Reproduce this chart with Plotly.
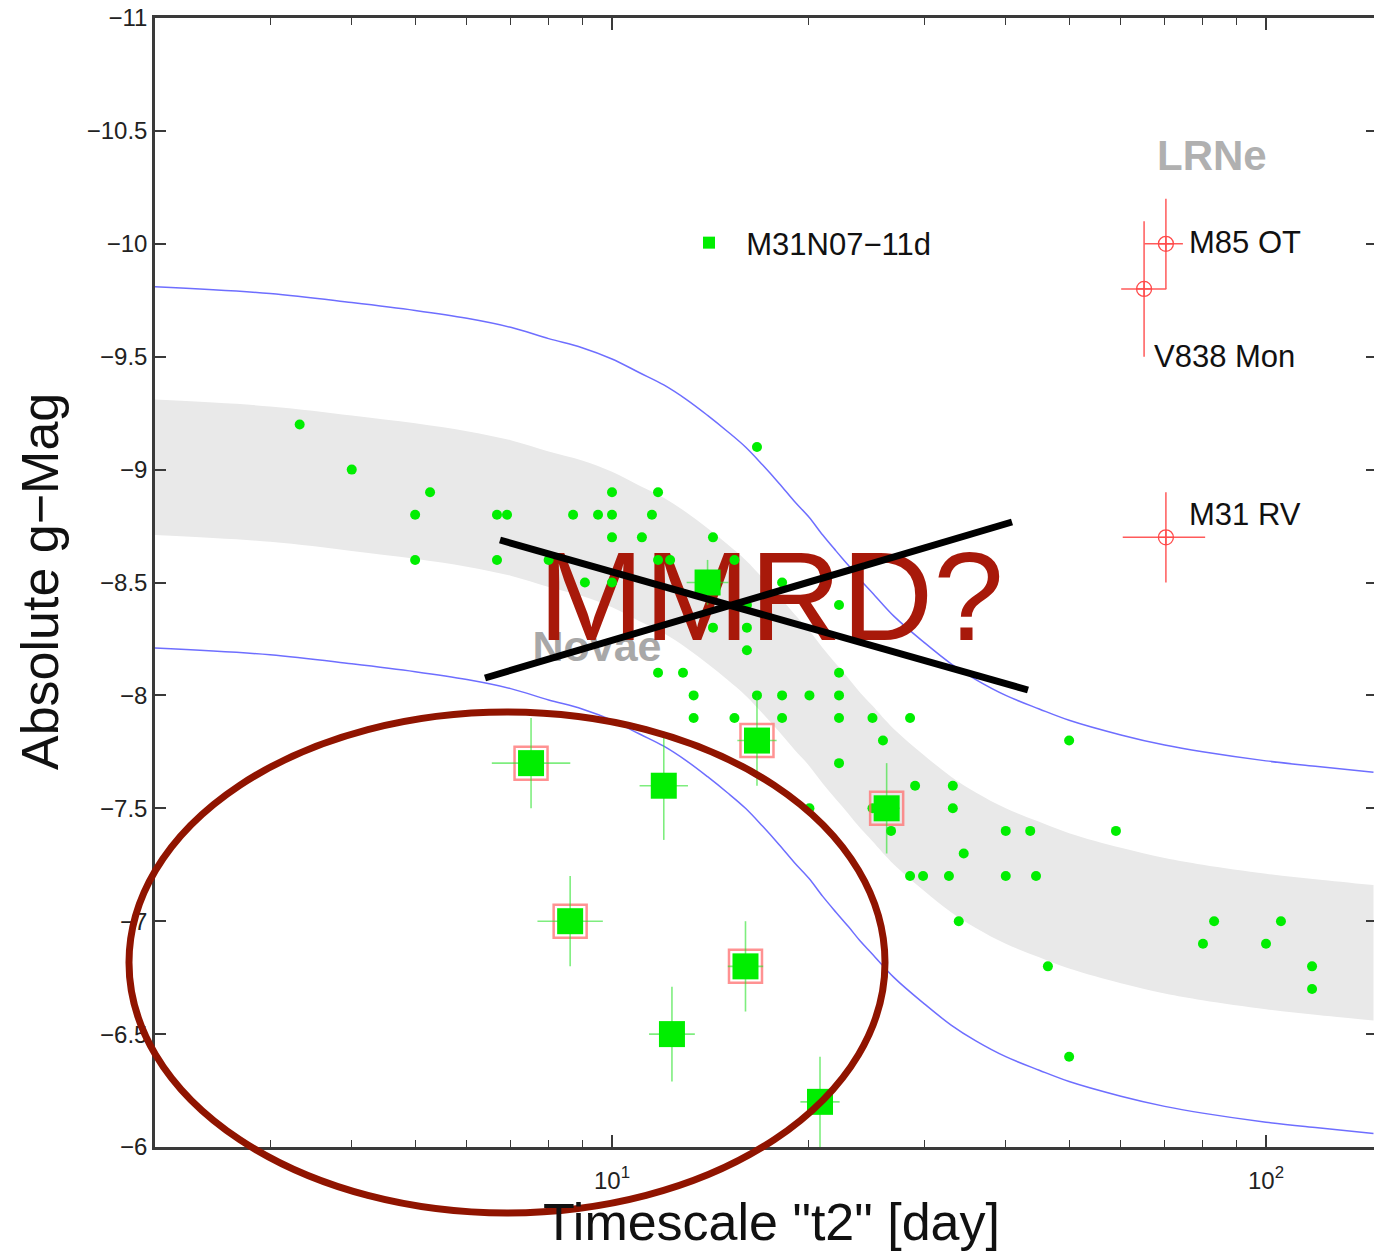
import numpy as np
import plotly.graph_objects as go

# ---------------- data ----------------
# Novae (small green dots): t2 [day], absolute g magnitude
nova_t2 = [3.33, 16.66, 4.0,
           5.27, 10.0, 11.76,
           5.0, 6.67, 6.91, 8.72, 9.52, 10.0, 11.51,
           10.0, 11.11, 14.27,
           5.0, 6.67, 8.0, 11.76, 12.27, 15.39,
           9.09, 10.0, 18.2,
           16.08, 22.24,
           14.27, 16.08,
           16.08,
           11.76, 12.84, 22.24,
           13.33, 16.66, 18.2, 20.04, 22.24,
           13.33, 15.39, 18.2, 22.24, 25.02, 28.56,
           25.96, 50.0,
           22.24,
           29.07, 33.2,
           20.04, 25.02, 33.2,
           26.71, 40.0, 43.6, 58.96,
           34.5,
           28.56, 29.9, 32.75, 40.0, 44.5,
           33.9, 83.3, 105.4,
           80.1, 100.0,
           46.4, 117.6,
           117.6,
           50.0]
nova_mag = [-9.2, -9.1, -9.0,
            -8.9, -8.9, -8.9,
            -8.8, -8.8, -8.8, -8.8, -8.8, -8.8, -8.8,
            -8.7, -8.7, -8.7,
            -8.6, -8.6, -8.6, -8.6, -8.6, -8.6,
            -8.5, -8.5, -8.5,
            -8.4, -8.4,
            -8.3, -8.3,
            -8.2,
            -8.1, -8.1, -8.1,
            -8.0, -8.0, -8.0, -8.0, -8.0,
            -7.9, -7.9, -7.9, -7.9, -7.9, -7.9,
            -7.8, -7.8,
            -7.7,
            -7.6, -7.6,
            -7.5, -7.5, -7.5,
            -7.4, -7.4, -7.4, -7.4,
            -7.3,
            -7.2, -7.2, -7.2, -7.2, -7.2,
            -7.0, -7.0, -7.0,
            -6.9, -6.9,
            -6.8, -6.8,
            -6.7,
            -6.4]

# M31N07-11d (big green squares)
m31_name = "M31N07\u221211d"
m31_t2 = [7.52, 14.0, 16.66, 12.0, 26.3, 8.63, 16.0, 12.35, 20.8]
m31_mag = [-7.7, -8.5, -7.8, -7.6, -7.5, -7.0, -6.8, -6.5, -6.2]
m31_magerr = [0.2, 0.1, 0.2, 0.24, 0.2, 0.2, 0.2, 0.21, 0.2]
m31_t2err_dex = [0.06, 0.032, 0.03, 0.037, 0.02, 0.05, 0.027, 0.035, 0.03]
m31_flagged = [True, False, True, False, True, True, True, False, False]

# Luminous red novae
lrn_names = ["M85 OT", "V838 Mon", "M31 RV"]
lrn_t2 = [70.3, 65.1, 70.3]
lrn_mag = [-10.0, -9.8, -8.7]
lrn_magerr = [0.2, 0.3, 0.2]
lrn_t2err_lo_dex = [0.033, 0.035, 0.066]
lrn_t2err_hi_dex = [0.026, 0.034, 0.060]

# MMRD relation (centre of grey band)
curve_t2 = [2, 3, 4, 5, 6, 7, 8, 9, 10, 11, 12, 13, 14, 15, 16, 17, 18, 19,
            20, 21, 22, 23, 24, 25, 27, 30, 33, 36, 40, 45, 50, 60, 70, 80,
            100, 120, 146]
curve_mag = [-9.01, -8.98, -8.94, -8.905, -8.87, -8.83, -8.78, -8.74, -8.69,
             -8.63, -8.575, -8.51, -8.44, -8.37, -8.30, -8.22, -8.14, -8.06,
             -7.99, -7.91, -7.84, -7.775, -7.71, -7.655, -7.55, -7.435, -7.34,
             -7.27, -7.20, -7.14, -7.09, -7.025, -6.98, -6.95, -6.91, -6.885,
             -6.86]
band_half = 0.3
envelope_half = 0.8

y_tickvals = [-11, -10.5, -10, -9.5, -9, -8.5, -8, -7.5, -7, -6.5, -6]
x_tickvals = [10, 100]
x_ticktext = ["10<sup>1</sup>", "10<sup>2</sup>"]
x_minorvals = [3, 4, 5, 6, 7, 8, 9, 20, 30, 40, 50, 60, 70, 80, 90]

# ---------------- geometry helpers ----------------
W, H = 1374, 1253
L, R, T, B = 155, 0, 18, 106
PX0, PX1, PY0, PY1 = L, W - R, T, H - B
XR = [1 - (612 - PX0) / 654.0, 2 + (PX1 - 1266) / 654.0]
YR = [-6, -11]


def fx(p):
    return (p - PX0) / (PX1 - PX0)


def fy(p):
    return (PY1 - p) / (PY1 - PY0)


def pix_to_t(p):
    return 10 ** (XR[0] + (p - PX0) / (PX1 - PX0) * (XR[1] - XR[0]))


def pix_to_mag(p):
    return YR[1] + (p - PY0) / (PY1 - PY0) * (YR[0] - YR[1])


FONT = "Liberation Sans, Arial, Helvetica, sans-serif"
GREEN = "#00ee00"

c = np.array(curve_mag)
fig = go.Figure()

# grey band
fig.add_trace(go.Scatter(x=curve_t2, y=c - band_half, mode="lines",
                         line=dict(width=0, shape="spline", color="rgba(0,0,0,0)"),
                         showlegend=False, hoverinfo="skip"))
fig.add_trace(go.Scatter(x=curve_t2, y=c + band_half, mode="lines",
                         line=dict(width=0, shape="spline", color="rgba(0,0,0,0)"),
                         fill="tonexty", fillcolor="#e9e9e9",
                         showlegend=False, hoverinfo="skip"))
# blue envelopes
for sgn in (-1, 1):
    fig.add_trace(go.Scatter(x=curve_t2, y=c + sgn * envelope_half, mode="lines",
                             line=dict(width=1.5, shape="spline", color="#6e6eff"),
                             showlegend=False, hoverinfo="skip"))

# Novae / MMRD? labels (under data points)
fig.add_trace(go.Scatter(x=[pix_to_t(597)], y=[pix_to_mag(650)], mode="text",
                         text=["<b>Novae</b>"],
                         textfont=dict(family=FONT, size=43, color="#a8a8a8"),
                         textposition="middle center", showlegend=False,
                         hoverinfo="skip", cliponaxis=False))
fig.add_trace(go.Scatter(x=[pix_to_t(771)], y=[pix_to_mag(608)], mode="text",
                         text=["MMRD?"],
                         textfont=dict(family=FONT, size=127, color="#a8190a"),
                         textposition="middle center", showlegend=False,
                         hoverinfo="skip", cliponaxis=False))

# novae dots
fig.add_trace(go.Scatter(x=nova_t2, y=nova_mag, mode="markers",
                         marker=dict(size=10, color=GREEN, line=dict(width=0)),
                         showlegend=False))

# M31N07-11d
m31_t2_a = np.array(m31_t2)
m31_dex = np.array(m31_t2err_dex)
ex_plus = m31_t2_a * (10 ** m31_dex - 1)
ex_minus = m31_t2_a * (1 - 10 ** (-m31_dex))
flag_t = [t for t, f in zip(m31_t2, m31_flagged) if f]
flag_m = [m for m, f in zip(m31_mag, m31_flagged) if f]
fig.add_trace(go.Scatter(x=flag_t, y=flag_m, mode="markers",
                         marker=dict(symbol="square-open", size=33,
                                     color="rgba(255,110,110,0.75)",
                                     line=dict(width=2.5, color="rgba(255,110,110,0.75)")),
                         showlegend=False, hoverinfo="skip"))
fig.add_trace(go.Scatter(x=m31_t2, y=m31_mag, mode="markers", name="\u00a0\u00a0" + m31_name,
                         marker=dict(symbol="square", size=26, color=GREEN, line=dict(width=0)),
                         error_y=dict(type="data", array=m31_magerr, color="rgba(40,225,40,0.6)",
                                      thickness=1.6, width=0),
                         error_x=dict(type="data", array=ex_plus, arrayminus=ex_minus,
                                      symmetric=False, color="rgba(40,225,40,0.6)",
                                      thickness=1.6, width=0),
                         showlegend=True))

# LRNe
lt = np.array(lrn_t2)
fig.add_trace(go.Scatter(x=lrn_t2, y=lrn_mag, mode="markers",
                         marker=dict(symbol="circle-cross-open", size=15, color="#ff4a4a",
                                     line=dict(width=1.3, color="#ff4a4a")),
                         error_y=dict(type="data", array=lrn_magerr, color="#ff5a5a",
                                      thickness=1.5, width=0),
                         error_x=dict(type="data", symmetric=False,
                                      array=lt * (10 ** np.array(lrn_t2err_hi_dex) - 1),
                                      arrayminus=lt * (1 - 10 ** (-np.array(lrn_t2err_lo_dex))),
                                      color="#ff5a5a", thickness=1.5, width=0),
                         showlegend=False))

# invisible trace to carry the right-hand mirrored y ticks
fig.add_trace(go.Scatter(x=[None], y=[None], yaxis="y2", showlegend=False, hoverinfo="skip"))

AX = "#3a3a3a"
fig.update_layout(
    width=W, height=H,
    margin=dict(l=L, r=R, t=T, b=B),
    paper_bgcolor="white", plot_bgcolor="white",
    font=dict(family=FONT, color="#222"),
    xaxis=dict(type="log", range=XR, showgrid=False, zeroline=False,
               showline=True, linecolor=AX, linewidth=2.5, mirror="ticks",
               ticks="inside", ticklen=12, tickwidth=1.5, tickcolor=AX,
               tickmode="array", tickvals=x_tickvals, ticktext=x_ticktext,
               tickfont=dict(size=24, color="#222"), ticklabelstandoff=10,
               minor=dict(tickmode="array", tickvals=x_minorvals, ticks="inside",
                          ticklen=7, tickwidth=1.2, tickcolor=AX)),
    yaxis=dict(range=YR, showgrid=False, zeroline=False,
               showline=True, linecolor=AX, linewidth=2.5, mirror=False,
               ticks="inside", ticklen=11, tickwidth=1.5, tickcolor=AX,
               tickmode="array", tickvals=y_tickvals,
               tickfont=dict(size=24, color="#222")),
    yaxis2=dict(range=YR, overlaying="y", side="right", showgrid=False,
                zeroline=False, showline=False, ticks="inside", ticklen=8,
                tickwidth=1.5, tickcolor=AX, tickmode="array", tickvals=y_tickvals,
                showticklabels=False),
    legend=dict(x=fx(689), y=fy(243), xanchor="left", yanchor="middle",
                bgcolor="rgba(0,0,0,0)", borderwidth=0, itemsizing="constant",
                font=dict(family=FONT, size=31, color="#111")),
    showlegend=True,
)

# decorations: crossed lines and ellipse
fig.add_shape(type="line", xref="paper", yref="paper",
              x0=fx(500), y0=fy(540), x1=fx(1028), y1=fy(690),
              line=dict(color="black", width=7), layer="above")
fig.add_shape(type="line", xref="paper", yref="paper",
              x0=fx(485), y0=fy(678), x1=fx(1012), y1=fy(522),
              line=dict(color="black", width=7), layer="above")
fig.add_shape(type="circle", xref="paper", yref="paper",
              x0=fx(129), y0=fy(1213), x1=fx(885), y1=fy(712),
              line=dict(color="#901400", width=7), layer="above")

ann = []
ann.append(dict(x=fx(1187), y=fy(243), text="M85 OT", xanchor="left", yanchor="middle",
                font=dict(size=31, color="#111")))
ann.append(dict(x=fx(1152), y=fy(357), text="V838 Mon", xanchor="left", yanchor="middle",
                font=dict(size=31, color="#111")))
ann.append(dict(x=fx(1187), y=fy(514), text="M31 RV", xanchor="left", yanchor="middle",
                font=dict(size=31, color="#111")))
ann.append(dict(x=fx(1212), y=fy(155), text="<b>LRNe</b>", xanchor="center", yanchor="middle",
                font=dict(size=42, color="#b0b0b0")))
ann.append(dict(x=fx(40), y=fy(582), text="Absolute g\u2212Mag", textangle=-90,
                xanchor="center", yanchor="middle", font=dict(size=52, color="#111")))
ann.append(dict(x=fx(771), y=fy(1222), text="Timescale \"t2\" [day]",
                xanchor="center", yanchor="middle", font=dict(size=52, color="#111")))
for a in ann:
    a.update(xref="paper", yref="paper", showarrow=False)
    a["font"]["family"] = FONT
fig.update_layout(annotations=ann)

fig.write_html("out.html")
